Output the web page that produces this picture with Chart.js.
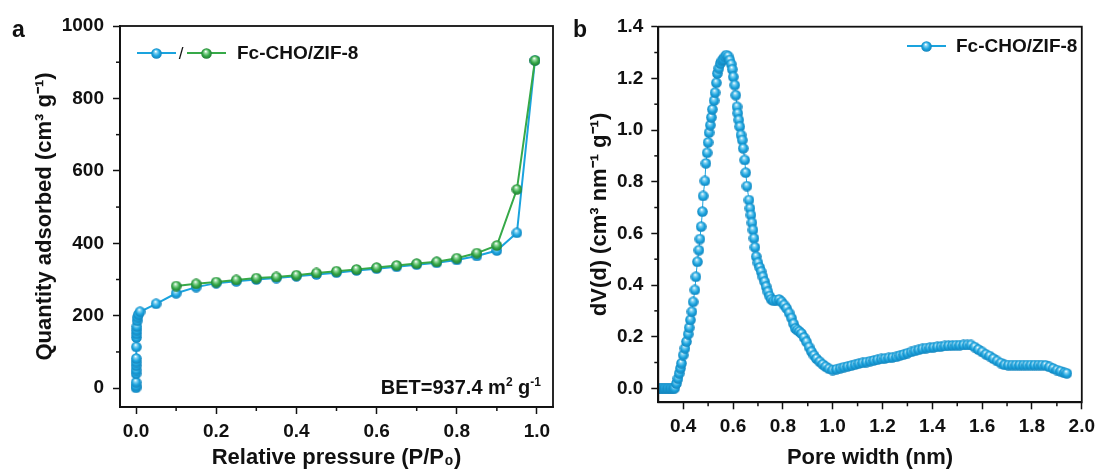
<!DOCTYPE html>
<html><head><meta charset="utf-8">
<script src="https://cdn.jsdelivr.net/npm/chart.js@4"></script>
<style>
html,body{margin:0;padding:0;background:#fff;}
#wrap{position:relative;width:1101px;height:471px;overflow:hidden;background:#fff;}
#ca{position:absolute;left:0;top:0;}
#cb{position:absolute;left:560px;top:0;}
</style></head><body>
<div id="wrap"><canvas id="ca" width="560" height="471"></canvas><canvas id="cb" width="541" height="471"></canvas></div>
<script>
// ---------- Panel a : N2 isotherm ----------
const adsP = [0.00002,0.00005,0.0001,0.0002,0.0003,0.0004,0.0005,0.0006,0.0008,0.001,0.0012,0.0015,0.002,0.003,0.004,0.006,0.01,0.05,0.10,0.15,0.20,0.25,0.30,0.35,0.40,0.45,0.50,0.55,0.60,0.65,0.70,0.75,0.80,0.85,0.90,0.95,0.995];
const adsQ = [1,6,16,40,50,62,72,82,114,140,150,160,170,186,196,204,211,233,262,279,290,295,300,304,309,314,319,325,330,335,341,346,354,365,380,429,905];
const desP = [0.995,0.95,0.90,0.85,0.80,0.75,0.70,0.65,0.60,0.55,0.50,0.45,0.40,0.35,0.30,0.25,0.20,0.15,0.10];
const desQ = [905,549,394,373,359,349,344,339,333,328,323,318,312,307,304,299,293,288,282];
const tickP = [0,0.2,0.4,0.6,0.8,1.0];
const minorP = [0.1,0.3,0.5,0.7,0.9];
const tickQ = [0,200,400,600,800,1000];
const minorQ = [100,300,500,700,900];

// ---------- Panel b : pore size distribution ----------
const poreW = [0.300,0.306,0.312,0.318,0.324,0.330,0.336,0.342,0.348,0.354,0.360,0.366,
 0.373,0.379,0.384,0.389,0.393,0.400,0.407,0.413,0.420,0.424,0.429,0.435,0.440,0.447,0.451,0.457,0.463,0.467,0.472,0.477,0.480,0.487,0.491,0.496,0.500,0.504,0.509,0.513,0.517,0.524,0.528,0.533,0.537,0.543,0.549,0.555,0.560,0.567,0.573,
 0.580,0.587,0.593,0.597,0.601,0.607,0.611,0.616,0.619,0.623,0.627,0.632,0.637,0.641,0.647,0.651,0.656,0.664,0.668,0.672,0.676,0.680,0.684,0.688,0.693,0.700,0.707,0.713,0.720,0.727,0.733,0.740,0.747,0.753,0.763,0.773,
 0.785,0.795,0.805,0.815,0.825,0.835,0.843,0.850,0.858,0.866,0.875,0.885,0.895,0.905,0.915,0.925,0.935,0.948,0.960,0.972,0.985,1.000,
 1.015,1.030,1.045,1.060,1.075,1.090,1.105,1.120,1.135,1.150,1.165,1.180,1.195,1.210,1.225,1.240,1.255,1.270,1.285,1.300,1.315,1.330,1.345,1.360,1.375,1.390,1.405,1.420,1.435,1.450,1.465,1.480,1.495,1.510,1.525,1.540,1.555,
 1.570,1.585,1.600,1.615,1.630,1.645,1.660,1.675,1.690,1.705,1.720,1.735,1.750,1.765,1.780,1.795,1.810,1.825,1.840,1.855,1.870,1.885,1.900,1.915,1.930,1.940];
const dVd = [0,0,0,0,0,0,0,0,0,0,0,0.001,
 0.019,0.038,0.058,0.078,0.097,0.129,0.155,0.181,0.210,0.235,0.265,0.297,0.335,0.381,0.432,0.490,0.535,0.578,0.626,0.684,0.745,0.803,0.871,0.912,0.952,0.990,1.019,1.049,1.080,1.114,1.145,1.183,1.219,1.239,1.258,1.268,1.274,1.283,1.290,
 1.286,1.271,1.255,1.235,1.206,1.174,1.135,1.090,1.065,1.039,1.013,0.981,0.961,0.929,0.884,0.835,0.783,0.729,0.697,0.671,0.641,0.613,0.581,0.546,0.510,0.486,0.468,0.452,0.432,0.413,0.394,0.374,0.357,0.345,0.339,0.342,
 0.344,0.335,0.323,0.310,0.292,0.272,0.250,0.232,0.226,0.220,0.212,0.197,0.180,0.160,0.142,0.128,0.115,0.103,0.093,0.084,0.076,0.071,
 0.074,0.078,0.082,0.085,0.088,0.092,0.096,0.099,0.102,0.105,0.108,0.111,0.114,0.116,0.118,0.120,0.122,0.127,0.131,0.136,0.141,0.145,0.149,0.153,0.156,0.157,0.159,0.161,0.162,0.164,0.165,0.166,0.167,0.167,0.168,0.168,0.168,
 0.160,0.150,0.141,0.132,0.125,0.115,0.106,0.098,0.091,0.090,0.090,0.090,0.090,0.090,0.090,0.090,0.090,0.090,0.090,0.089,0.083,0.077,0.071,0.066,0.060,0.058];
const tickW = [0.4,0.6,0.8,1.0,1.2,1.4,1.6,1.8,2.0];
const minorW = [0.5,0.7,0.9,1.1,1.3,1.5,1.7,1.9];
const tickD = [0,0.2,0.4,0.6,0.8,1.0,1.2,1.4];
const minorD = [0.1,0.3,0.5,0.7,0.9,1.1,1.3];

const seriesName = 'Fc-CHO/ZIF-8';
const FONT = '"Liberation Sans", Arial, Helvetica, sans-serif';
const INK = '#111111';
const BLUE = '#1aa3de', GREEN = '#36a948';

function sphere(base, light, dark, d){
  const c = document.createElement('canvas'); c.width = d; c.height = d;
  const g = c.getContext('2d'); const r = d/2;
  const grd = g.createRadialGradient(r*0.85, r*0.6, r*0.05, r, r, r);
  grd.addColorStop(0, '#ffffff'); grd.addColorStop(0.22, light);
  grd.addColorStop(0.62, base); grd.addColorStop(1, dark);
  g.fillStyle = grd; g.beginPath(); g.arc(r, r, r-0.2, 0, Math.PI*2); g.fill();
  return c;
}
const blueBallA = sphere(BLUE, '#86d4f3', '#1382ba', 11);
const greenBallA = sphere(GREEN, '#9fdea8', '#1f7b31', 11);
const blueBallB = sphere(BLUE, '#86d4f3', '#1382ba', 11);

const framePlugin = {
  id: 'frame',
  afterDraw(chart, args, o){
    const {ctx, chartArea: a, scales} = chart;
    ctx.save();
    ctx.strokeStyle = INK; ctx.lineWidth = 1.5;
    o.minorX.forEach(v => { const x = scales.x.getPixelForValue(v);
      ctx.beginPath(); ctx.moveTo(x, a.bottom); ctx.lineTo(x, a.bottom + 4); ctx.stroke(); });
    o.minorY.forEach(v => { const y = scales.y.getPixelForValue(v);
      ctx.beginPath(); ctx.moveTo(a.left, y); ctx.lineTo(a.left - 4, y); ctx.stroke(); });
    ctx.lineWidth = 1.8;
    ctx.strokeRect(a.left, a.top, a.right - a.left, a.bottom - a.top);
    ctx.restore();
  }
};

function richText(ctx, parts, xRight, baseline, size){
  const fN = 'bold ' + size + 'px ' + FONT, fS = 'bold ' + Math.round(size*0.62) + 'px ' + FONT;
  let w = 0;
  parts.forEach(p => { ctx.font = p[1] === 'n' ? fN : fS; w += ctx.measureText(p[0]).width; });
  let x = xRight - w;
  parts.forEach(p => {
    ctx.font = p[1] === 'n' ? fN : fS;
    const dy = p[1] === 'sup' ? -size*0.42 : (p[1] === 'sub' ? size*0.2 : 0);
    ctx.fillText(p[0], x, baseline + dy);
    x += ctx.measureText(p[0]).width;
  });
}

const annotPlugin = {
  id: 'annot',
  afterDraw(chart, args, o){
    const ctx = chart.ctx;
    ctx.save();
    ctx.fillStyle = INK; ctx.textBaseline = 'alphabetic'; ctx.textAlign = 'left';
    ctx.font = 'bold 23px ' + FONT;
    ctx.fillText(o.panel, o.panelX, o.panelY);
    o.legend.forEach(it => {
      ctx.strokeStyle = it.color; ctx.lineWidth = it.lw;
      ctx.beginPath(); ctx.moveTo(it.x0, o.legY); ctx.lineTo(it.x1, o.legY); ctx.stroke();
      const mx = (it.x0 + it.x1) / 2;
      ctx.drawImage(it.ball, Math.round(mx - it.ball.width/2), Math.round(o.legY - it.ball.height/2));
    });
    if (o.slashX) {
      ctx.font = '17px ' + FONT; ctx.textBaseline = 'middle'; ctx.textAlign = 'center';
      ctx.fillText('/', o.slashX, o.legY + 1);
    }
    ctx.font = 'bold 19px ' + FONT; ctx.textBaseline = 'middle'; ctx.textAlign = 'left';
    ctx.fillText(seriesName, o.legTextX, o.legY + 1);
    if (o.bet) {
      ctx.textBaseline = 'alphabetic';
      richText(ctx, [['BET=937.4 m','n'],['2','sup'],[' g','n'],['-1','sup']], o.bet.x, o.bet.y, 20);
    }
    ctx.restore();
  }
};

function axisOpts(ticksArr, fmt, title, pad, extra){
  return Object.assign({
    type: 'linear',
    afterBuildTicks: s => { s.ticks = ticksArr.map(v => ({value: v})); },
    ticks: { autoSkip: false, maxRotation: 0, color: INK, padding: pad,
      font: { family: FONT, size: 19, weight: 'bold' }, callback: fmt },
    grid: { drawOnChartArea: false, drawTicks: true, tickLength: 7, tickColor: INK, tickWidth: 1.5, color: INK },
    border: { display: true, color: INK, width: 1.8 },
    title: { display: true, text: title, color: INK, padding: 0,
      font: { family: FONT, size: 22, weight: 'bold' } }
  }, extra);
}

Chart.defaults.font.family = FONT;

new Chart(document.getElementById('ca'), {
  type: 'scatter',
  data: { datasets: [
    { label: 'adsorption', data: adsP.map((p, i) => ({x: p, y: adsQ[i]})), showLine: true,
      borderColor: BLUE, borderWidth: 2, pointStyle: blueBallA, order: 2 },
    { label: 'desorption', data: desP.map((p, i) => ({x: p, y: desQ[i]})), showLine: true,
      borderColor: GREEN, borderWidth: 2, pointStyle: greenBallA, order: 1 }
  ]},
  options: {
    responsive: false, animation: false, events: [],
    layout: { padding: { left: 32, top: 26, right: 7, bottom: 0 } },
    plugins: { legend: { display: false }, tooltip: { enabled: false },
      frame: { minorX: minorP, minorY: minorQ },
      annot: { panel: 'a', panelX: 12, panelY: 37, legY: 53,
        legend: [ { x0: 137, x1: 176, color: BLUE, lw: 2, ball: blueBallA },
                  { x0: 187, x1: 226, color: GREEN, lw: 2, ball: greenBallA } ],
        slashX: 181, legTextX: 237, bet: { x: 541, y: 394 } } },
    scales: {
      x: axisOpts(tickP, v => v.toFixed(1), 'Relative pressure (P/P\u2080)', 6,
        { min: -0.04, max: 1.04, afterFit: s => { s.height = 64; } }),
      y: axisOpts(tickQ, v => String(Math.round(v)), 'Quantity adsorbed (cm\u00B3 g\u207B\u00B9)', 9,
        { min: -52, max: 1000, afterFit: s => { s.width = 88; } })
    }
  },
  plugins: [framePlugin, annotPlugin]
});

new Chart(document.getElementById('cb'), {
  type: 'scatter',
  data: { datasets: [
    { label: seriesName, data: poreW.map((w, i) => ({x: w, y: dVd[i]})), showLine: true,
      borderColor: BLUE, borderWidth: 1, pointStyle: blueBallB }
  ]},
  options: {
    responsive: false, animation: false, events: [],
    layout: { padding: { left: 27, top: 26.7, right: 17.7, bottom: 0 } },
    plugins: { legend: { display: false }, tooltip: { enabled: false },
      frame: { minorX: minorW, minorY: minorD },
      annot: { panel: 'b', panelX: 13, panelY: 37, legY: 46,
        legend: [ { x0: 347, x1: 386, color: BLUE, lw: 2, ball: blueBallB } ],
        legTextX: 396 } },
    scales: {
      x: axisOpts(tickW, v => v.toFixed(1), 'Pore width (nm)', 6,
        { min: 0.3, max: 2.0, afterFit: s => { s.height = 68.7; } }),
      y: axisOpts(tickD, v => v.toFixed(1), 'dV(d) (cm\u00B3 nm\u207B\u00B9 g\u207B\u00B9)', 8,
        { min: -0.054, max: 1.4, afterFit: s => { s.width = 71.3; } })
    }
  },
  plugins: [framePlugin, annotPlugin]
});
</script>
</body></html>
